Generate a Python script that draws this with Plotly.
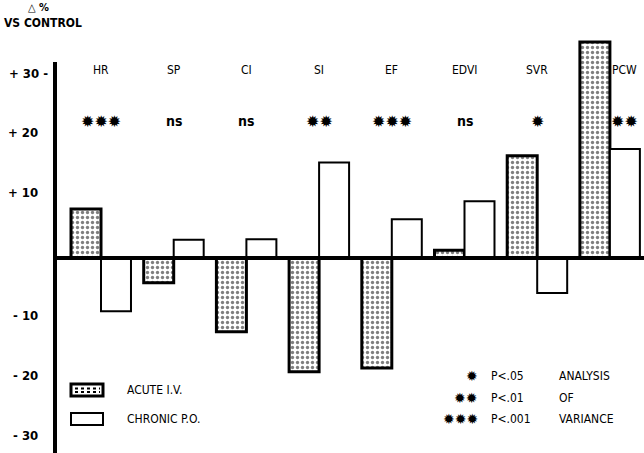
import plotly.graph_objects as go

categories = ["HR", "SP", "CI", "SI", "EF", "EDVI", "SVR", "PCW"]
acute_iv = [8.1, -4.1, -12.2, -18.8, -18.2, 1.3, 16.9, 35.7]
chronic_po = [-8.8, 3.0, 3.1, 15.8, 6.4, 9.4, -5.8, 18.0]
significance = ["✹✹✹", "ns", "ns", "✹✹", "✹✹✹", "ns", "✹", "✹✹"]
tick_values = [30, 20, 10, -10, -20, -30]
tick_labels = ["+ 30 -", "+ 20", "+ 10", "- 10", "- 20", "- 30"]
series_names = ["ACUTE I.V.", "CHRONIC P.O."]

W, H = 644, 453
FONT = "Liberation Sans Narrow, DejaVu Sans Condensed, Liberation Sans, sans-serif"
STAR = "DejaVu Sans"
Y0 = 258.0          # pixel of zero line
PX = 6.05           # pixels per unit
yr = [-(H - Y0) / PX, Y0 / PX]
xr = [-101 / 72.7, (W - 101) / 72.7]

def px_to_y(p):
    return (Y0 - p) / PX

fig = go.Figure()
fig.add_trace(go.Bar(
    x=list(range(len(categories))), y=acute_iv, name=series_names[0],
    marker=dict(color="white", line=dict(color="black", width=3),
                pattern=dict(shape=".", fgcolor="black", bgcolor="white",
                             size=5, solidity=0.35)),
))
fig.add_trace(go.Bar(
    x=list(range(len(categories))), y=chronic_po, name=series_names[1],
    marker=dict(color="white", line=dict(color="black", width=2)),
))

ann = []
for i, (c, s) in enumerate(zip(categories, significance)):
    dx = 0.2 if c == "PCW" else 0.0
    ann.append(dict(x=i + dx, y=px_to_y(70), xref="x", yref="y", text=c, yanchor="middle",
                    showarrow=False, font=dict(family=FONT, size=12, color="black")))
    if s == "ns":
        ann.append(dict(x=i + dx, y=px_to_y(121), xref="x", yref="y", text="<b>ns</b>",
                        yanchor="middle", showarrow=False,
                        font=dict(family=FONT, size=14, color="black")))
    else:
        ann.append(dict(x=i + dx, y=px_to_y(121), xref="x", yref="y", text="<b>" + s + "</b>",
                        yanchor="middle", showarrow=False,
                        font=dict(family=STAR, size=16, color="black")))

tick_px = [73, 132, 192, 315, 375, 435]
for v, t, p in zip(tick_values, tick_labels, tick_px):
    ann.append(dict(x=50 / W if v == 30 else 40 / W, y=px_to_y(p), xref="paper", yref="y",
                    text="<b>" + t + "</b>", showarrow=False, xanchor="right", yanchor="middle",
                    font=dict(family=FONT, size=13, color="black")))

def pa(x, y, text, **kw):
    d = dict(x=x / W, y=1 - y / H, xref="paper", yref="paper", text=text,
             showarrow=False, yanchor="middle")
    d.update(kw)
    return d

ann.append(pa(26, 8, "<b>△ %</b>", xanchor="left",
              font=dict(family=FONT, size=11, color="black")))
ann.append(pa(2, 23, "<b>VS CONTROL</b>", xanchor="left",
              font=dict(family=FONT, size=12, color="black")))

sig_rows = [("✹", "P<.05", "ANALYSIS"), ("✹✹", "P<.01", "OF"), ("✹✹✹", "P<.001", "VARIANCE")]
for k, (st, p, w) in enumerate(sig_rows):
    yy = 376 + 21.5 * k
    ann.append(pa(480, yy, "<b>" + st + "</b>", xanchor="right",
                  font=dict(family=STAR, size=14, color="black")))
    ann.append(pa(489, yy, p, xanchor="left", font=dict(family=FONT, size=12, color="black")))
    ann.append(pa(557, yy, w, xanchor="left", font=dict(family=FONT, size=12, color="black")))

for k, nm in enumerate(series_names):
    ann.append(pa(125, 390 + 29 * k, nm, xanchor="left",
                  font=dict(family=FONT, size=12, color="black")))

def pr(x0, x1, y0, y1, **kw):
    d = dict(xref="paper", yref="paper", x0=x0 / W, x1=x1 / W, y0=1 - y0 / H, y1=1 - y1 / H)
    d.update(kw)
    return d

shapes = [
    dict(type="line", xref="paper", yref="y", x0=54 / W, x1=1, y0=0, y1=0,
         line=dict(color="black", width=4)),
    dict(type="line", xref="paper", yref="y", x0=55 / W, x1=55 / W, y0=yr[0], y1=px_to_y(62),
         line=dict(color="black", width=4)),
    pr(71, 103, 384, 396, type="rect", fillcolor="white", line=dict(color="black", width=3)),
    pr(75, 100, 388.5, 388.5, type="line", line=dict(color="black", width=2, dash="dot")),
    pr(75, 100, 392, 392, type="line", line=dict(color="black", width=2, dash="dot")),
    pr(71, 103, 413, 425, type="rect", fillcolor="white", line=dict(color="black", width=2)),
]

fig.update_layout(
    width=W, height=H,
    margin=dict(l=0, r=0, t=0, b=0),
    paper_bgcolor="white", plot_bgcolor="white",
    barmode="group", bargap=0.175, bargroupgap=0.0,
    xaxis=dict(range=xr, visible=False),
    yaxis=dict(range=yr, visible=False),
    annotations=ann, shapes=shapes,
    showlegend=False,
)

fig.write_html("out.html", config={"displayModeBar": False},
               post_script="document.body.style.margin='0';document.body.style.overflow='hidden';")
